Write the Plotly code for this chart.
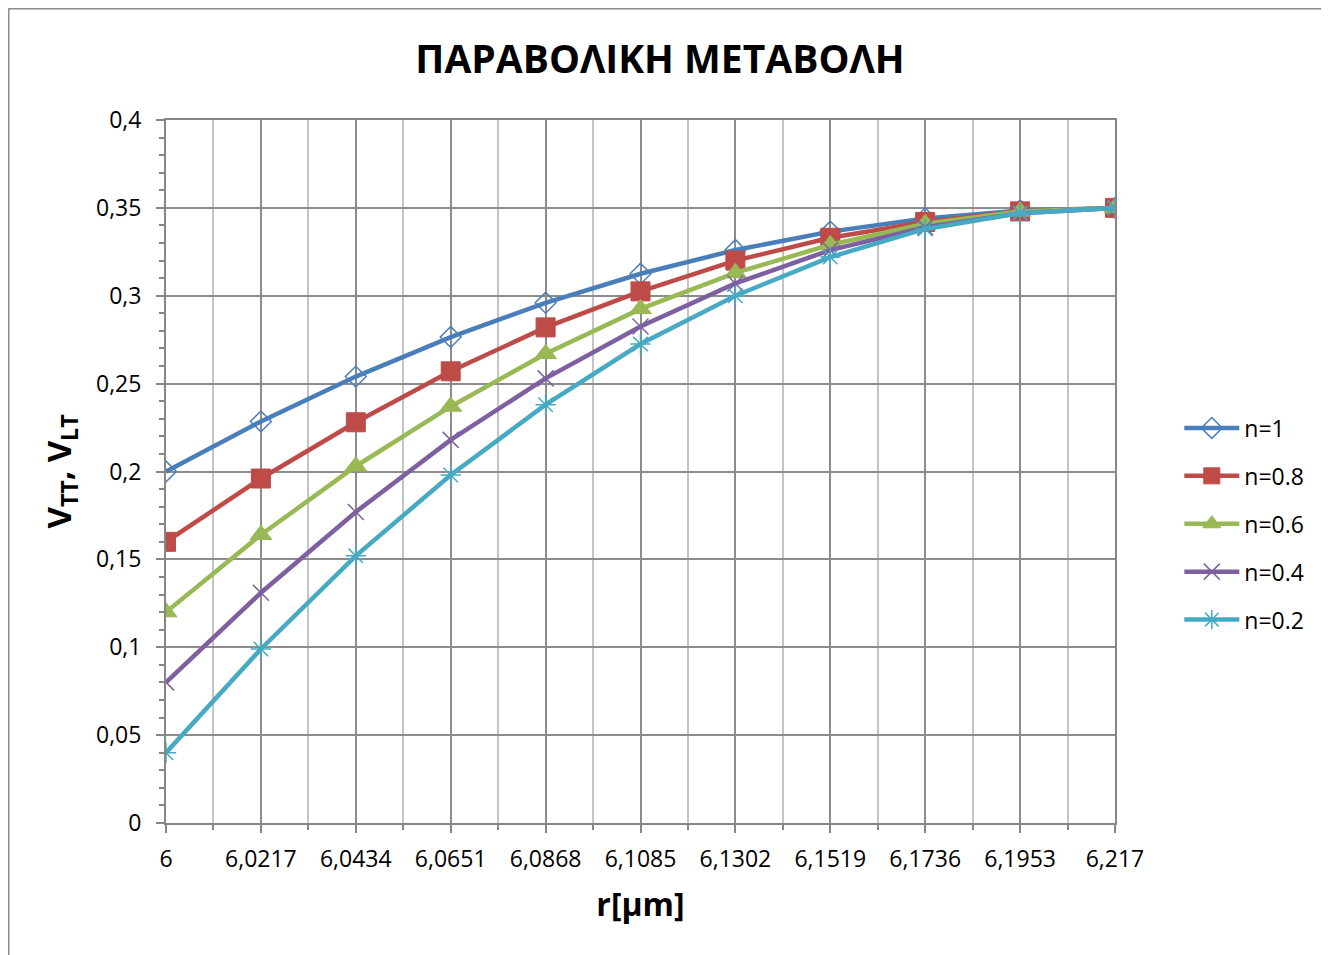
import plotly.graph_objects as go

r_vals = [6.0, 6.0217, 6.0434, 6.0651, 6.0868, 6.1085, 6.1302, 6.1519, 6.1736, 6.1953, 6.217]
r_labels = ["6", "6,0217", "6,0434", "6,0651", "6,0868", "6,1085", "6,1302", "6,1519", "6,1736", "6,1953", "6,217"]

v_n1 = [0.200, 0.2285, 0.254, 0.2765, 0.296, 0.3125, 0.326, 0.3365, 0.344, 0.3485, 0.350]
v_n08 = [0.160, 0.196, 0.228, 0.257, 0.282, 0.3025, 0.320, 0.333, 0.342, 0.348, 0.350]
v_n06 = [0.120, 0.164, 0.203, 0.237, 0.267, 0.2925, 0.313, 0.329, 0.341, 0.348, 0.350]
v_n04 = [0.080, 0.131, 0.177, 0.218, 0.253, 0.2825, 0.307, 0.326, 0.339, 0.347, 0.350]
v_n02 = [0.040, 0.099, 0.152, 0.198, 0.238, 0.2725, 0.300, 0.322, 0.338, 0.347, 0.350]

y_ticks = [0, 0.05, 0.1, 0.15, 0.2, 0.25, 0.3, 0.35, 0.4]
y_labels = ["0", "0,05", "0,1", "0,15", "0,2", "0,25", "0,3", "0,35", "0,4"]

series = [
    ("n=1", v_n1, "#4A7EBB", dict(symbol="diamond-open", size=16, line=dict(width=1.5))),
    ("n=0.8", v_n08, "#BE4B48", dict(symbol="square", size=19, line=dict(width=1))),
    ("n=0.6", v_n06, "#98B954", dict(symbol="triangle-up", size=19, line=dict(width=1))),
    ("n=0.4", v_n04, "#7D60A0", dict(symbol="x-thin-open", size=16, line=dict(width=1.5))),
    ("n=0.2", v_n02, "#46AAC5", dict(symbol="asterisk-open", size=17, line=dict(width=1.5))),
]

FONT = "Open Sans"
W, H = 1321, 947
L, T = 158, 112
PW, PH = 949, 703
fig = go.Figure()
for i, (name, vals, col, mk) in enumerate(series):
    mk = dict(mk)
    mk["color"] = col
    mk["line"] = dict(mk["line"], color=col)
    fig.add_trace(go.Scatter(
        x=r_vals, y=vals, name=name, mode="lines+markers",
        line=dict(color=col, width=4.5), marker=mk, legendgroup=f"g{i}",
    ))

axis_col = "#868686"
bx = (0.5 - L) / PW
by = 1 + (T - 0.5) / PH
fig.update_layout(
    width=W, height=H,
    paper_bgcolor="white", plot_bgcolor="white",
    margin=dict(l=L, r=W - L - PW, t=T, b=H - T - PH),
    font=dict(family=FONT, color="black", size=23),
    title=dict(text="<b>ΠΑΡΑΒΟΛΙΚΗ ΜΕΤΑΒΟΛΗ</b>", x=(660 - 8 - L) / PW, xref="paper", xanchor="center",
               y=1 - 51 / H, yanchor="middle", font=dict(size=39, family=FONT)),
    legend=dict(x=(1185 - 8 - L) / PW - 0.006, xanchor="left", y=(815 - 516) / PH, yanchor="middle",
                font=dict(size=23, family=FONT), tracegroupgap=15, itemwidth=55,
                bgcolor="rgba(0,0,0,0)"),
    shapes=[
        dict(type="line", xref="paper", yref="paper",
             x0=bx, x1=2.0, y0=by, y1=by,
             line=dict(color="#8a8a8a", width=2)),
        dict(type="line", xref="paper", yref="paper",
             x0=bx, x1=bx, y0=by, y1=-1.0,
             line=dict(color="#8a8a8a", width=2)),
    ],
)

fig.update_xaxes(
    range=[6.0, 6.217], tickmode="array", tickvals=r_vals, ticktext=r_labels,
    showgrid=True, gridcolor="#8c8c8c", gridwidth=1.5,
    showline=True, linecolor=axis_col, linewidth=2, mirror=True,
    ticks="outside", ticklen=8, tickcolor=axis_col, tickwidth=2,
    tickfont=dict(size=23, family=FONT), ticklabelstandoff=6,
    minor=dict(tick0=6.0, dtick=0.01085, ticks="outside", ticklen=5, tickcolor=axis_col,
               tickwidth=2, showgrid=True, gridcolor="#c4c4c4", gridwidth=1.5),
    title=dict(text="<b>r[μm]</b>", font=dict(size=32, family=FONT), standoff=21),
    zeroline=False,
)
fig.update_yaxes(
    range=[0, 0.4], tickmode="array", tickvals=y_ticks, ticktext=y_labels,
    showgrid=True, gridcolor="#8c8c8c", gridwidth=1.5,
    showline=True, linecolor=axis_col, linewidth=2, mirror=True,
    ticks="outside", ticklen=8, tickcolor=axis_col, tickwidth=2,
    tickfont=dict(size=23, family=FONT), ticklabelstandoff=10,
    minor=dict(tick0=0, dtick=0.01, ticks="outside", ticklen=5, tickcolor=axis_col,
               tickwidth=2, showgrid=False),
    title=dict(text="<b>V<sub>TT</sub>, V<sub>LT</sub></b>", font=dict(size=33, family=FONT), standoff=14),
    zeroline=False,
)

fig.write_html("out.html")
